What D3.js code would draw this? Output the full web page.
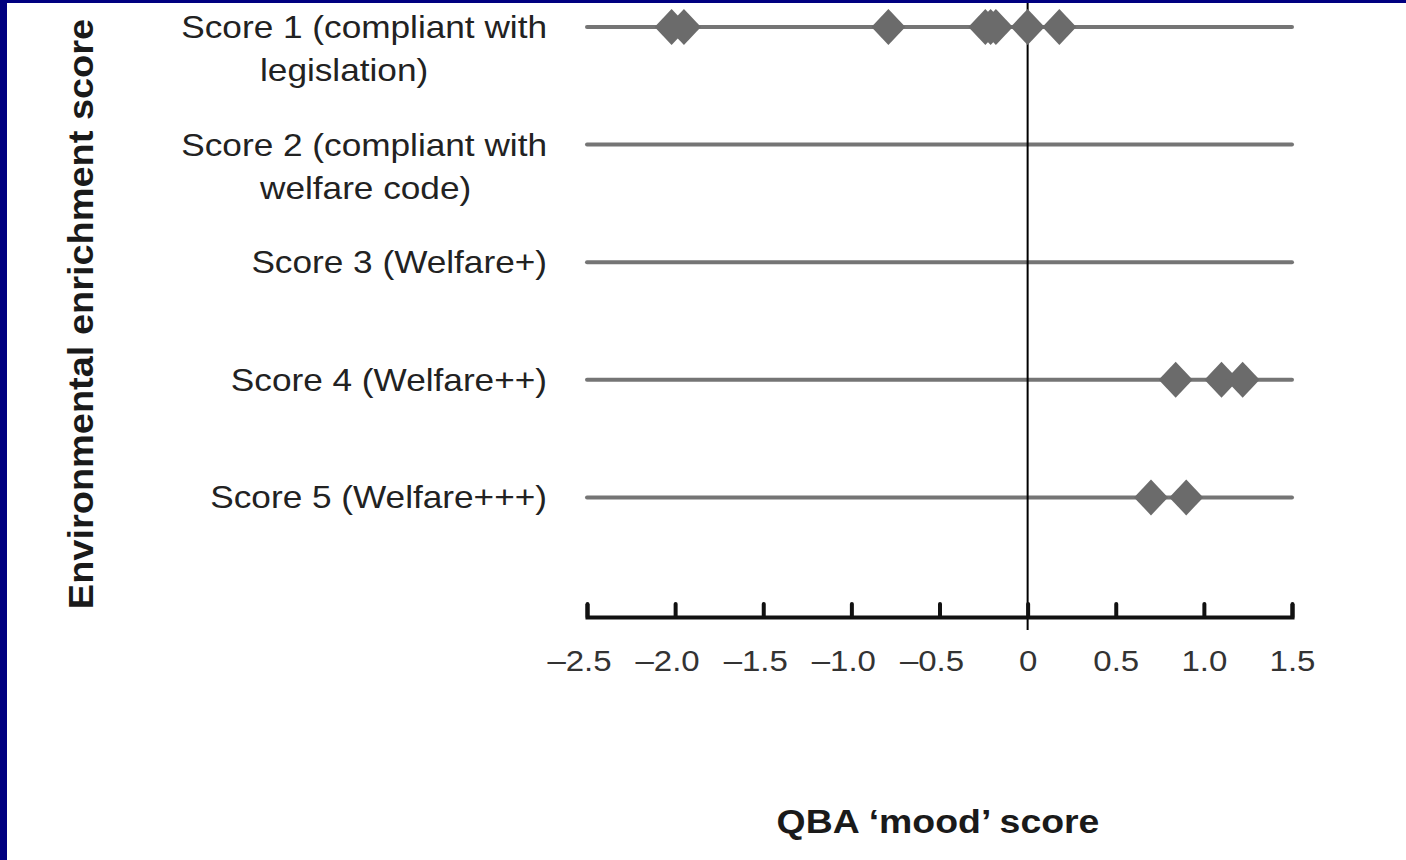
<!DOCTYPE html>
<html>
<head>
<meta charset="utf-8">
<script src="https://cdn.jsdelivr.net/npm/d3@7"></script>
<style>
  body { margin: 0; background: #fff; }
  svg { display: block; font-family: "Liberation Sans", Arial, sans-serif; }
</style>
</head>
<body>
<svg></svg>
<script>
var width = 1406;
var height = 860;

// categories (first line / second line of label)
var scoreLines = [
  ["Score 1 (compliant with", "legislation)"],
  ["Score 2 (compliant with", "welfare code)"],
  ["Score 3 (Welfare+)"],
  ["Score 4 (Welfare++)"],
  ["Score 5 (Welfare+++)"]
];
var scoreKeys = ["s1", "s2", "s3", "s4", "s5"];

// QBA mood scores per enrichment score
var score1 = [-2.02, -1.95, -0.79, -0.24, -0.21, -0.18, 0.0, 0.18];
var score2 = [];
var score3 = [];
var score4 = [0.84, 1.10, 1.22];
var score5 = [0.70, 0.90];
var allScores = [score1, score2, score3, score4, score5];

var tickValues = [-2.5, -2.0, -1.5, -1.0, -0.5, 0, 0.5, 1.0, 1.5];
var tickLabels = ["\u20132.5", "\u20132.0", "\u20131.5", "\u20131.0", "\u20130.5", "0", "0.5", "1.0", "1.5"];

var stretch = 1.1; // the original font is a bit wider than Arial

var svg = d3.select("svg")
  .attr("width", width)
  .attr("height", height);

// navy frame (left + top)
svg.append("rect").attr("x", 0).attr("y", 0).attr("width", 7).attr("height", height).attr("fill", "#000080");
svg.append("rect").attr("x", 0).attr("y", 0).attr("width", width).attr("height", 3).attr("fill", "#000080");

var x = d3.scaleLinear().domain([-2.5, 1.5]).range([587, 1292]);
var y = d3.scalePoint().domain(scoreKeys.concat(["axis"])).range([27, 615]);

// row lines
svg.selectAll(".rowline")
  .data(scoreKeys)
  .enter().append("line")
    .attr("class", "rowline")
    .attr("x1", x(-2.5))
    .attr("x2", x(1.5))
    .attr("y1", function(d) { return y(d); })
    .attr("y2", function(d) { return y(d); })
    .attr("stroke", "#757575")
    .attr("stroke-width", 4)
    .attr("stroke-linecap", "round");

// row labels
var lab = svg.selectAll(".rowlabel")
  .data(scoreKeys)
  .enter().append("g")
    .attr("class", "rowlabel");

lab.each(function(d, i) {
  var g = d3.select(this);
  var lines = scoreLines[i];
  g.append("text")
    .attr("transform", "translate(547," + (y(d) + 11) + ") scale(" + stretch + ",1)")
    .attr("text-anchor", "end")
    .attr("font-size", "32px")
    .attr("fill", "#222")
    .text(lines[0]);
  if (lines[1]) {
    g.append("text")
      .attr("transform", "translate(260," + (y(d) + 54) + ") scale(" + stretch + ",1)")
      .attr("text-anchor", "start")
      .attr("font-size", "32px")
      .attr("fill", "#222")
      .text(lines[1]);
  }
});

// zero line
svg.append("line")
  .attr("x1", x(0)).attr("x2", x(0))
  .attr("y1", 3).attr("y2", 630)
  .attr("stroke", "#000")
  .attr("stroke-width", 2);

// axis
var xAxis = d3.axisBottom(x)
  .tickValues(tickValues)
  .tickSize(-13)
  .tickPadding(0)
  .tickFormat(function(d, i) { return tickLabels[i]; });

var ax = svg.append("g")
  .attr("transform", "translate(0," + (y("axis") + 2) + ")")
  .call(xAxis);
ax.select(".domain").attr("stroke", "#111").attr("stroke-width", 4);
ax.selectAll(".tick line").attr("stroke", "#111").attr("stroke-width", 4)
  .attr("stroke-linecap", "round");
ax.selectAll(".tick text")
  .attr("font-size", "30px")
  .attr("fill", "#333")
  .attr("font-family", "Liberation Sans, Arial, sans-serif")
  .attr("y", 0)
  .attr("dy", 0)
  .attr("transform", function(d) {
    // dash hangs a bit to the left in the original
    var shift = d < 0 ? -8 : 0;
    return "translate(" + shift + ",54) scale(" + stretch + ",1)";
  });

// diamonds
var pts = [];
allScores.forEach(function(arr, i) {
  arr.forEach(function(v) { pts.push({ key: scoreKeys[i], v: v }); });
});
var diamond = "M0,-18L17,0L0,18L-17,0Z";
svg.selectAll(".pt")
  .data(pts)
  .enter().append("path")
    .attr("class", "pt")
    .attr("d", diamond)
    .attr("transform", function(d) { return "translate(" + x(d.v) + "," + y(d.key) + ")"; })
    .attr("fill", "#6b6b6b");

// axis titles
svg.append("text")
  .attr("transform", "translate(93,314) rotate(-90) scale(" + stretch + ",1)")
  .attr("text-anchor", "middle")
  .attr("font-size", "34.5px")
  .attr("font-weight", "bold")
  .attr("fill", "#1a1a1a")
  .text("Environmental enrichment score");

svg.append("text")
  .attr("transform", "translate(938,833) scale(" + stretch + ",1)")
  .attr("text-anchor", "middle")
  .attr("font-size", "34px")
  .attr("font-weight", "bold")
  .attr("fill", "#1a1a1a")
  .text("QBA \u2018mood\u2019 score");
</script>
</body>
</html>
